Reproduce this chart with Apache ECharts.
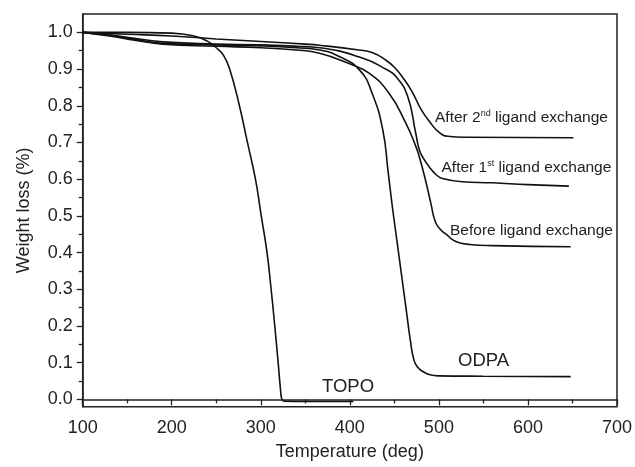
<!DOCTYPE html>
<html><head><meta charset="utf-8">
<script src="https://cdn.jsdelivr.net/npm/echarts@6/dist/echarts.min.js"></script>
<style>html,body{margin:0;padding:0;background:#fff}#c{width:635px;height:467px}</style>
</head><body><div id="c"></div>
<script>
const FONT = '"Liberation Sans", Arial, sans-serif';
const xTicks = [100, 200, 300, 400, 500, 600, 700];
const yTicks = [0.0, 0.1, 0.2, 0.3, 0.4, 0.5, 0.6, 0.7, 0.8, 0.9, 1.0];
const yMinorTicks = [0.05, 0.15, 0.25, 0.35, 0.45, 0.55, 0.65, 0.75, 0.85, 0.95];

const topoT = [100,150,200,225,240,250,258,265,276,285,294,300.5,307,311.6,315.7,319.5,322,323.5,326,350,404];
const topoW = [1.0,1.0,0.998,0.99,0.976,0.958,0.938,0.90,0.80,0.70,0.60,0.50,0.40,0.30,0.20,0.10,0.03,0.002,-0.005,-0.006,-0.006];

const odpaT = [100,130,160,190,250,300,340,366,388,411,425,437,443,448,453,458,463,468,472,476,482,490,500,550,648];
const odpaW = [1.0,0.992,0.98,0.97,0.966,0.963,0.958,0.952,0.934,0.897,0.834,0.734,0.62,0.52,0.43,0.34,0.25,0.16,0.107,0.088,0.076,0.067,0.064,0.063,0.062];

const beforeT = [100,130,160,190,250,300,340,366,399,422,444,463,474,478,485,491,496,502,508,519,535,560,648];
const beforeW = [1.0,0.99,0.978,0.968,0.962,0.958,0.952,0.943,0.915,0.888,0.834,0.752,0.69,0.661,0.597,0.534,0.484,0.462,0.45,0.43,0.422,0.419,0.416];

const after1T = [100,130,160,190,250,300,340,366,414,440,452,465,474,478,483,489,497,504,526,560,600,646];
const after1W = [1.0,0.993,0.983,0.974,0.968,0.966,0.962,0.958,0.93,0.90,0.879,0.825,0.725,0.68,0.655,0.634,0.612,0.602,0.593,0.59,0.585,0.581];

const after2T = [100,150,200,250,300,350,366,410,425,440,450,460,470,480,490,500,510,530,651];
const after2W = [1.0,0.995,0.99,0.982,0.975,0.968,0.965,0.952,0.945,0.925,0.905,0.875,0.838,0.79,0.755,0.728,0.717,0.714,0.713];

function zip(a, b) { return a.map((v, i) => [v, b[i]]); }
function lineSeries(name, t, w) {
  return {
    name: name, type: 'line', data: zip(t, w), showSymbol: false,
    smooth: 0.5, xAxisIndex: 0, yAxisIndex: 0,
    lineStyle: { color: '#111', width: 1.6 }, silent: true
  };
}

const chart = echarts.init(document.getElementById('c'), null, { renderer: 'canvas' });
const axisText = { fontSize: 18, color: '#222', fontFamily: FONT };
chart.setOption({
  animation: false,
  backgroundColor: '#fff',
  grid: { left: 82.7, right: 17, top: 14, bottom: 60.3, show: true, borderColor: '#222', borderWidth: 1.5 },
  xAxis: [{
    type: 'value', min: 100, max: 700, interval: 100,
    name: 'Temperature (deg)', nameLocation: 'middle', nameGap: 36,
    nameTextStyle: axisText,
    axisLine: { show: true, lineStyle: { color: '#222', width: 1.5 } },
    axisTick: { show: true, length: 6, lineStyle: { color: '#222', width: 1.3 } },
    minorTick: { show: true, splitNumber: 2, length: 4, lineStyle: { color: '#222', width: 1.3 } },
    axisLabel: Object.assign({ margin: 12, formatter: v => String(v) }, axisText),
    splitLine: { show: false }
  }],
  yAxis: [{
    type: 'value', min: -0.02, max: 1.05, position: 'left',
    name: 'Weight loss (%)', nameLocation: 'middle', nameGap: 50,
    nameTextStyle: axisText,
    axisLine: { show: true, lineStyle: { color: '#222', width: 1.5 } },
    axisTick: { show: true, length: 6, customValues: yTicks, lineStyle: { color: '#222', width: 1.3 } },
    axisLabel: Object.assign({ margin: 10, customValues: yTicks, formatter: v => v.toFixed(1) }, axisText),
    splitLine: { show: false }
  }, {
    type: 'value', min: -0.02, max: 1.05, position: 'left',
    axisLine: { show: false },
    axisTick: { show: true, length: 4, customValues: yMinorTicks, lineStyle: { color: '#222', width: 1.3 } },
    axisLabel: { show: false },
    splitLine: { show: false }
  }],
  series: [
    lineSeries('TOPO', topoT, topoW),
    lineSeries('ODPA', odpaT, odpaW),
    lineSeries('Before ligand exchange', beforeT, beforeW),
    lineSeries('After 1st ligand exchange', after1T, after1W),
    lineSeries('After 2nd ligand exchange', after2T, after2W)
  ],
  graphic: [
    { type: 'text', x: 435, y: 118, style: {
        text: '{n|After 2}{s|nd}{n| ligand exchange}', fill: '#222', verticalAlign: 'middle',
        rich: { n: { fontSize: 15.5, fontFamily: FONT, color: '#222', lineHeight: 17 },
                s: { fontSize: 9, fontFamily: FONT, color: '#222', verticalAlign: 'top' } } } },
    { type: 'text', x: 441.5, y: 168, style: {
        text: '{n|After 1}{s|st}{n| ligand exchange}', fill: '#222', verticalAlign: 'middle',
        rich: { n: { fontSize: 15.5, fontFamily: FONT, color: '#222', lineHeight: 17 },
                s: { fontSize: 9, fontFamily: FONT, color: '#222', verticalAlign: 'top' } } } },
    { type: 'text', x: 450, y: 231, style: {
        text: 'Before ligand exchange', fill: '#222', verticalAlign: 'middle',
        font: '15.5px ' + FONT } },
    { type: 'text', x: 458, y: 360.5, style: {
        text: 'ODPA', fill: '#222', verticalAlign: 'middle', font: '18.5px ' + FONT } },
    { type: 'text', x: 322, y: 386.5, style: {
        text: 'TOPO', fill: '#222', verticalAlign: 'middle', font: '18.5px ' + FONT } }
  ]
});
</script>
</body></html>
